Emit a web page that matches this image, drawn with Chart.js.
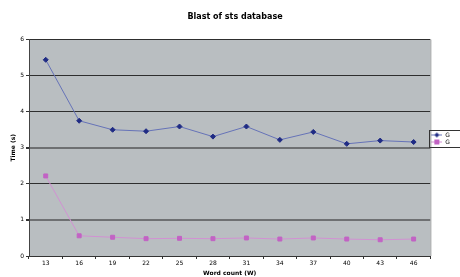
<!DOCTYPE html>
<html>
<head>
<meta charset="utf-8">
<script src="https://cdn.jsdelivr.net/npm/chart.js@4.4.1/dist/chart.umd.min.js"></script>
<style>
  html, body { margin: 0; padding: 0; background: #fff; }
  #wrap { width: 460px; height: 277px; }
</style>
</head>
<body>
<div id="wrap"><canvas id="grafico" width="460" height="277"></canvas></div>
<script>
  const wordCount = ['13', '16', '19', '22', '25', '28', '31', '34', '37', '40', '43', '46'];
  const serieAzul = [5.44, 3.75, 3.5, 3.46, 3.59, 3.31, 3.59, 3.22, 3.44, 3.11, 3.2, 3.16];
  const serieRosa = [2.22, 0.56, 0.52, 0.48, 0.49, 0.48, 0.5, 0.47, 0.5, 0.47, 0.45, 0.47];
  const yTicks = [0, 1, 2, 3, 4, 5, 6];

  // pequena imagem para a legenda: linha + marcador
  function iconeLegenda(cLinha, cPonto, forma) {
    const c = document.createElement('canvas');
    c.width = 11; c.height = 7;
    const ctx = c.getContext('2d');
    ctx.strokeStyle = cLinha;
    ctx.lineWidth = 1;
    ctx.beginPath(); ctx.moveTo(0, 3.5); ctx.lineTo(11, 3.5); ctx.stroke();
    ctx.fillStyle = cPonto;
    if (forma === 'diamante') {
      ctx.beginPath(); ctx.moveTo(5.5, 1); ctx.lineTo(8, 3.5); ctx.lineTo(5.5, 6); ctx.lineTo(3, 3.5); ctx.closePath(); ctx.fill();
    } else {
      ctx.fillRect(3, 1, 5, 5);
    }
    return c;
  }

  const fundoPlot = {
    id: 'fundoPlot',
    beforeDraw(chart) {
      const a = chart.chartArea, ctx = chart.ctx;
      ctx.save();
      ctx.fillStyle = '#b9bec1';
      ctx.fillRect(a.left, a.top, a.right - a.left, a.bottom - a.top);
      ctx.restore();
    },
    afterDraw(chart) {
      const a = chart.chartArea, ctx = chart.ctx;
      ctx.save();
      ctx.strokeStyle = '#9a9c9e';
      ctx.lineWidth = 1;
      ctx.beginPath(); ctx.moveTo(a.right + 0.5, a.top); ctx.lineTo(a.right + 0.5, a.bottom); ctx.stroke();
      const boxes = chart.legend.legendHitBoxes;
      if (boxes && boxes.length) {
        const x0 = boxes[0].left - 2, y0 = boxes[0].top - 2;
        const y1 = boxes[boxes.length - 1].top + boxes[boxes.length - 1].height + 2;
        ctx.strokeStyle = '#333';
        ctx.strokeRect(Math.round(x0) + 0.5, Math.round(y0) + 0.5, 40, Math.round(y1 - y0));
      }
      ctx.restore();
    }
  };

  new Chart(document.getElementById('grafico'), {
    type: 'line',
    data: {
      labels: wordCount,
      datasets: [{
        label: 'G',
        data: serieAzul,
        borderColor: '#6673b8',
        backgroundColor: '#1f2b84',
        pointBackgroundColor: '#1f2b84',
        pointBorderColor: '#1f2b84',
        pointStyle: 'rectRot',
        pointRadius: 2.5,
        borderWidth: 1,
        tension: 0
      }, {
        label: 'G',
        data: serieRosa,
        borderColor: '#d291d3',
        backgroundColor: '#c263c4',
        pointBackgroundColor: '#c263c4',
        pointBorderColor: '#c263c4',
        pointStyle: 'rect',
        pointRadius: 2.8,
        borderWidth: 1,
        tension: 0
      }]
    },
    options: {
      responsive: false,
      animation: false,
      layout: { padding: { left: 10, right: 0, top: 0, bottom: 0 } },
      plugins: {
        title: {
          display: true,
          text: 'Blast of sts database',
          color: '#000',
          font: { family: 'DejaVu Sans', size: 8, weight: 'bold' },
          padding: { top: 12, bottom: 18 }
        },
        legend: {
          position: 'right',
          labels: {
            usePointStyle: true,
            pointStyleWidth: 11,
            color: '#000',
            font: { family: 'DejaVu Sans', size: 6 },
            padding: 1,
            generateLabels(chart) {
              return [
                { text: 'G', pointStyle: iconeLegenda('#6673b8', '#1f2b84', 'diamante'), datasetIndex: 0, fontColor: '#000', lineWidth: 0, strokeStyle: 'transparent', fillStyle: 'transparent' },
                { text: 'G', pointStyle: iconeLegenda('#d291d3', '#c263c4', 'quadrado'), datasetIndex: 1, fontColor: '#000', lineWidth: 0, strokeStyle: 'transparent', fillStyle: 'transparent' }
              ];
            }
          }
        },
        tooltip: { enabled: false }
      },
      scales: {
        x: {
          offset: true,
          afterFit(s) { s.height = 21; },
          grid: {
            offset: true,
            drawOnChartArea: false,
            color: '#333',
            tickLength: 3
          },
          border: { color: '#333', width: 1 },
          ticks: { color: '#000', font: { family: 'DejaVu Sans', size: 6 }, padding: 1, maxRotation: 0 },
          title: {
            display: true,
            text: 'Word count (W)',
            color: '#000',
            font: { family: 'DejaVu Sans', size: 6, weight: 'bold' },
            padding: 0
          }
        },
        y: {
          min: 0,
          max: 6,
          afterBuildTicks(s) { s.ticks = yTicks.map(v => ({ value: v })); },
          afterFit(s) { s.width = 19; },
          grid: {
            color: ctx => (ctx.tick && (ctx.tick.value === 1 || ctx.tick.value === 3)) ? '#6e7072' : '#2e2e2e',
            lineWidth: ctx => (ctx.tick && (ctx.tick.value === 1 || ctx.tick.value === 3)) ? 2 : 1,
            tickColor: '#333',
            tickLength: 3
          },
          border: { color: '#444', width: 1 },
          ticks: { color: '#000', font: { family: 'DejaVu Sans', size: 6 }, padding: 2 },
          title: {
            display: true,
            text: 'Time (s)',
            color: '#000',
            font: { family: 'DejaVu Sans', size: 6, weight: 'bold' },
            padding: 0
          }
        }
      }
    },
    plugins: [fundoPlot]
  });
</script>
</body>
</html>
